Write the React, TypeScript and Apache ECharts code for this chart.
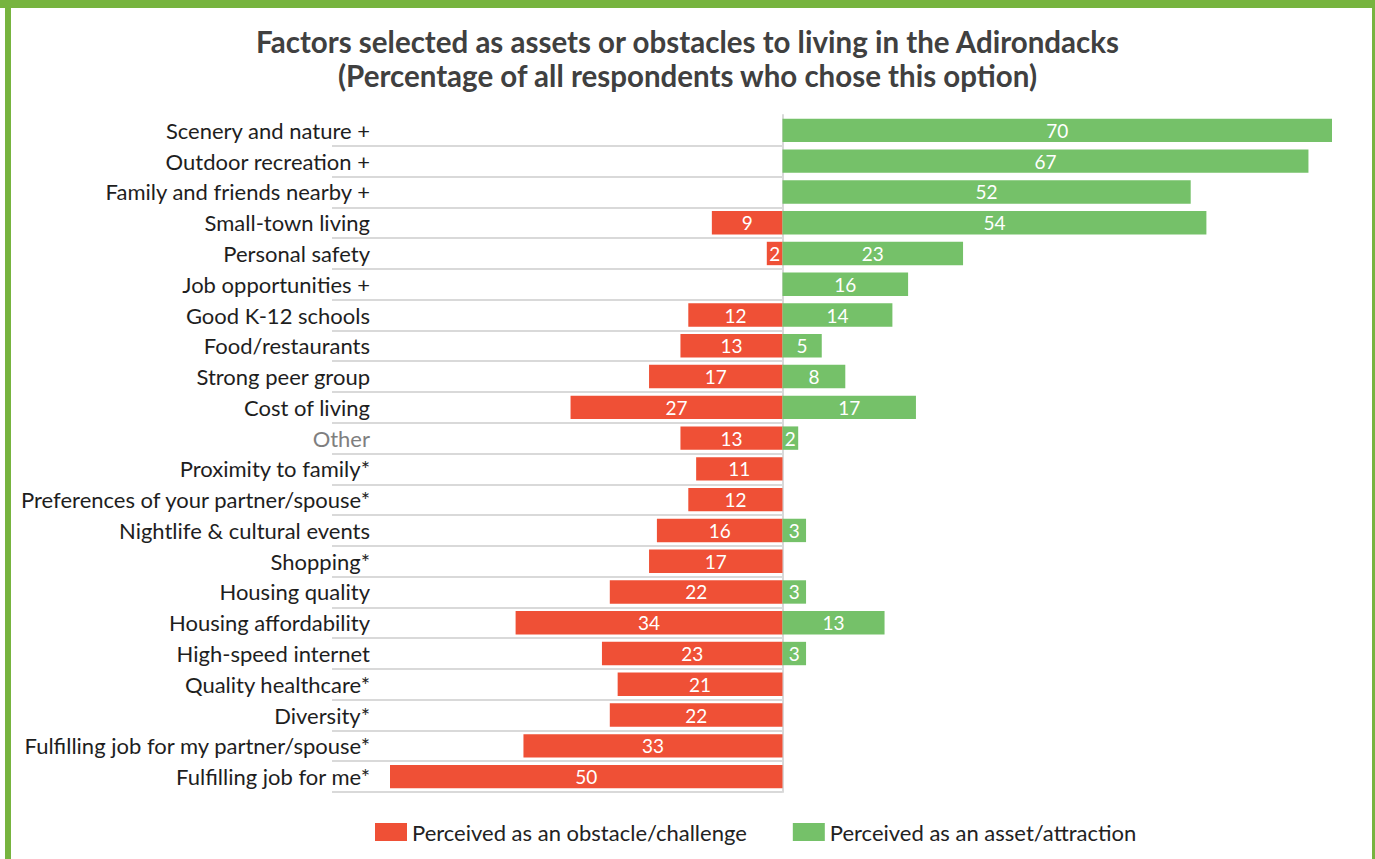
import React, { useEffect, useRef } from "react";
import * as echarts from "echarts";

const categories = [
  "Scenery and nature +",
  "Outdoor recreation +",
  "Family and friends nearby +",
  "Small-town living",
  "Personal safety",
  "Job opportunities +",
  "Good K-12 schools",
  "Food/restaurants",
  "Strong peer group",
  "Cost of living",
  "Other",
  "Proximity to family*",
  "Preferences of your partner/spouse*",
  "Nightlife & cultural events",
  "Shopping*",
  "Housing quality",
  "Housing affordability",
  "High-speed internet",
  "Quality healthcare*",
  "Diversity*",
  "Fulfilling job for my partner/spouse*",
  "Fulfilling job for me*",
];

const assetValues: (number | null)[] = [70, 67, 52, 54, 23, 16, 14, 5, 8, 17, 2, null, null, 3, null, 3, 13, 3, null, null, null, null];
const obstacleValues: (number | null)[] = [null, null, null, 9, 2, null, 12, 13, 17, 27, 13, 11, 12, 16, 17, 22, 34, 23, 21, 22, 33, 50];

const titleLines = [
  "Factors selected as assets or obstacles to living in the Adirondacks",
  "(Percentage of all respondents who chose this option)",
];
const obstacleName = "Perceived as an obstacle/challenge";
const assetName = "Perceived as an asset/attraction";

const RED = "#EF5036";
const GREEN = "#75C169";
const FRAME = "#77B43F";
const FONT = "Lato";

export default function App() {
  const ref = useRef<HTMLDivElement>(null);
  useEffect(() => {
    if (!ref.current) return;
    const chart = echarts.init(ref.current, undefined, { renderer: "svg" });
    const gridTop = 115;
    const gridHeight = 677;
    chart.setOption({
      animation: false,
      backgroundColor: "#ffffff",
      title: {
        text: titleLines.join("\n"),
        left: "center",
        top: 19,
        textStyle: {
          fontFamily: FONT,
          fontSize: 29.5,
          fontWeight: "bold",
          color: "#404040",
          lineHeight: 34,
        },
      },
      legend: {
        left: 375,
        top: 821,
        padding: 0,
        itemWidth: 32,
        itemHeight: 18,
        itemGap: 46,
        icon: "rect",
        textStyle: { fontFamily: FONT, fontSize: 22, color: "#222" },
        data: [obstacleName, assetName],
      },
      graphic: [
        { type: "rect", shape: { x: 0, y: 0, width: 1375, height: 8 }, style: { fill: FRAME }, silent: true },
        { type: "rect", shape: { x: 5, y: 0, width: 6, height: 859 }, style: { fill: FRAME }, silent: true },
        { type: "rect", shape: { x: 1372, y: 0, width: 6, height: 859 }, style: { fill: FRAME }, silent: true },
      ],
      grid: [
        { left: 390, width: 942, top: gridTop, height: gridHeight },
        { left: 332, width: 450.5, top: gridTop, height: gridHeight },
      ],
      xAxis: [
        { gridIndex: 0, type: "value", min: -50, max: 70, show: false },
        { gridIndex: 1, type: "value", min: 0, max: 1, show: false },
      ],
      yAxis: [
        {
          gridIndex: 0,
          type: "category",
          inverse: true,
          data: categories.map((c) =>
            c === "Other" ? { value: c, textStyle: { color: "#7F7F7F" } } : c
          ),
          axisLine: { show: false },
          axisTick: { show: false },
          splitLine: { show: false },
          axisLabel: { margin: 20, fontFamily: FONT, fontSize: 22, color: "#1E1E1E" },
        },
        {
          gridIndex: 1,
          type: "category",
          inverse: true,
          position: "right",
          data: categories,
          axisLine: { show: true, onZero: false, lineStyle: { color: "#D9D9D9", width: 2 } },
          axisTick: { show: false },
          axisLabel: { show: false },
          splitLine: { show: true, showMinLine: false, lineStyle: { color: "#D9D9D9", width: 2 } },
        },
      ],
      series: [
        {
          name: obstacleName,
          type: "bar",
          stack: "s",
          xAxisIndex: 0,
          yAxisIndex: 0,
          barCategoryGap: "24%",
          data: obstacleValues.map((v) => (v == null ? null : -v)),
          itemStyle: { color: RED },
          label: {
            show: true,
            position: "inside",
            color: "#fff",
            fontFamily: FONT,
            fontSize: 19,
            formatter: (p: any) => String(Math.abs(p.value)),
          },
        },
        {
          name: assetName,
          type: "bar",
          stack: "s",
          xAxisIndex: 0,
          yAxisIndex: 0,
          barCategoryGap: "24%",
          data: assetValues,
          itemStyle: { color: GREEN },
          label: {
            show: true,
            position: "inside",
            color: "#fff",
            fontFamily: FONT,
            fontSize: 19,
            formatter: (p: any) => String(p.value),
          },
        },
      ],
    });
    return () => chart.dispose();
  }, []);
  return (
    <div
      ref={ref}
      style={{ position: "fixed", left: 0, top: 0, width: 1375, height: 859 }}
    />
  );
}
